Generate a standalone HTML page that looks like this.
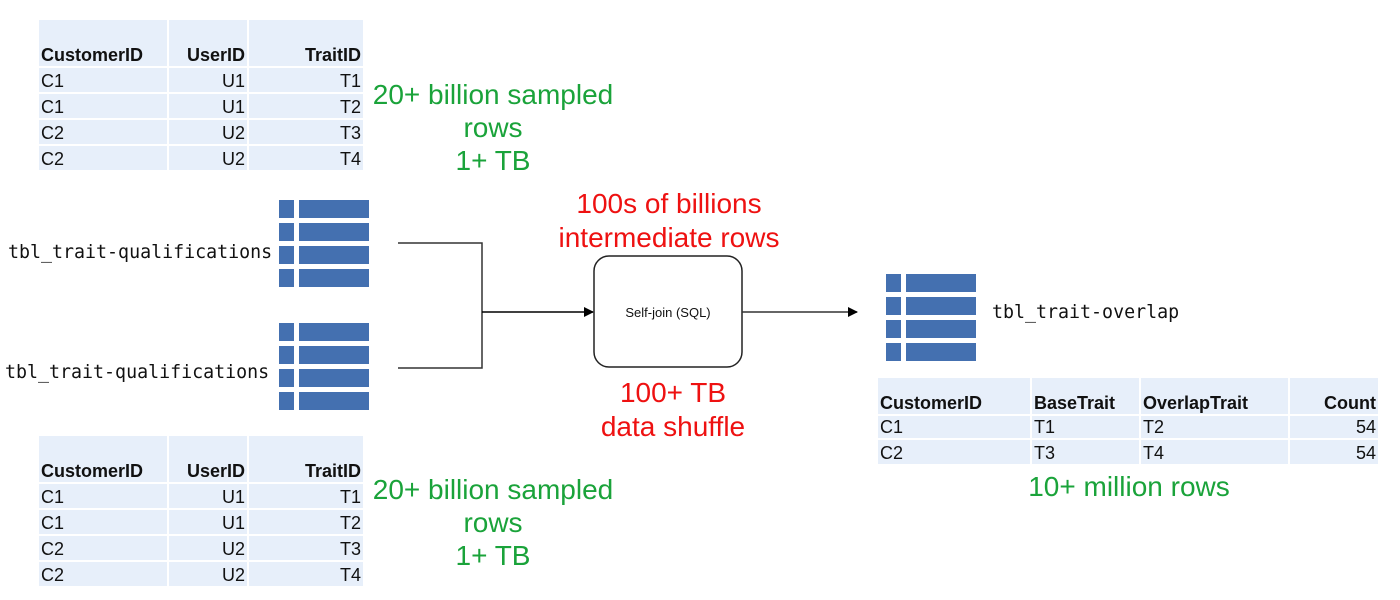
<!DOCTYPE html>
<html><head><meta charset="utf-8"><style>
body{margin:0;width:1400px;height:600px;background:#fff;position:relative;overflow:hidden;font-family:"Liberation Sans",Arial,sans-serif}
.t{position:absolute;display:grid;gap:2px}
.t div{background:#e7effa;font-size:18px;color:#111;line-height:22px;padding:0 2px;display:flex;align-items:flex-end}
.t .h{font-weight:bold}
.t .r{justify-content:flex-end}
.g{position:absolute;color:#1aa33a;font-size:28px;text-align:center;line-height:33px}
.red{position:absolute;color:#ee1111;font-size:28px;text-align:center;line-height:34px}
.m{position:absolute;font-family:"DejaVu Sans Mono","Liberation Mono",monospace;font-size:18.3px;color:#111}
</style></head><body>

<div class="t" style="left:39px;top:20px;grid-template-columns:128px 78px 114px;grid-template-rows:46px 24px 24px 24px 24px">
<div class="h">CustomerID</div><div class="h r">UserID</div><div class="h r">TraitID</div>
<div>C1</div><div class="r">U1</div><div class="r">T1</div>
<div>C1</div><div class="r">U1</div><div class="r">T2</div>
<div>C2</div><div class="r">U2</div><div class="r">T3</div>
<div>C2</div><div class="r">U2</div><div class="r">T4</div>
</div>
<div class="t" style="left:39px;top:436px;grid-template-columns:128px 78px 114px;grid-template-rows:46px 24px 24px 24px 24px">
<div class="h">CustomerID</div><div class="h r">UserID</div><div class="h r">TraitID</div>
<div>C1</div><div class="r">U1</div><div class="r">T1</div>
<div>C1</div><div class="r">U1</div><div class="r">T2</div>
<div>C2</div><div class="r">U2</div><div class="r">T3</div>
<div>C2</div><div class="r">U2</div><div class="r">T4</div>
</div>
<div class="t" style="left:878px;top:378px;grid-template-columns:152px 107px 147px 88px;grid-template-rows:36px 22px 24px">
<div class="h">CustomerID</div><div class="h">BaseTrait</div><div class="h">OverlapTrait</div><div class="h r">Count</div>
<div>C1</div><div>T1</div><div>T2</div><div class="r">54</div>
<div>C2</div><div>T3</div><div>T4</div><div class="r">54</div>
</div>

<div class="g" style="left:343px;top:78px;width:300px">20+ billion sampled<br>rows<br>1+ TB</div>
<div class="g" style="left:343px;top:473px;width:300px">20+ billion sampled<br>rows<br>1+ TB</div>
<div class="g" style="left:979px;top:470px;width:300px">10+ million rows</div>
<div class="red" style="left:529px;top:187px;width:280px">100s of billions<br>intermediate rows</div>
<div class="red" style="left:533px;top:376px;width:280px">100+ TB<br>data shuffle</div>

<div class="m" style="left:8px;top:242px">tbl_trait-qualifications</div>
<div class="m" style="left:5px;top:362px">tbl_trait-qualifications</div>
<div class="m" style="left:992px;top:302px">tbl_trait-overlap</div>

<svg width="1400" height="600" style="position:absolute;left:0;top:0">
<defs>
<g id="ic">
<rect x="0" y="0" width="15" height="18" fill="#4470b0"/><rect x="20" y="0" width="70" height="18" fill="#4470b0"/>
<rect x="0" y="23" width="15" height="18" fill="#4470b0"/><rect x="20" y="23" width="70" height="18" fill="#4470b0"/>
<rect x="0" y="46" width="15" height="18" fill="#4470b0"/><rect x="20" y="46" width="70" height="18" fill="#4470b0"/>
<rect x="0" y="69" width="15" height="18" fill="#4470b0"/><rect x="20" y="69" width="70" height="18" fill="#4470b0"/>
</g>
<marker id="a" markerWidth="10" markerHeight="10" refX="9" refY="5" orient="auto" markerUnits="userSpaceOnUse"><path d="M0,0 L10,5 L0,10z" fill="#000"/></marker>
</defs>
<use href="#ic" x="279" y="200"/>
<use href="#ic" x="279" y="323"/>
<use href="#ic" x="886" y="274"/>
<path d="M398,243 H482 V368 H398" fill="none" stroke="#333" stroke-width="1.5"/>
<line x1="482" y1="312" x2="593" y2="312" stroke="#000" stroke-width="1.5" marker-end="url(#a)"/>
<rect x="594" y="256" width="148" height="111" rx="15" fill="#fff" stroke="#222" stroke-width="1.5"/>
<text x="668" y="317" font-family="Liberation Sans,Arial,sans-serif" font-size="13" text-anchor="middle" fill="#111">Self-join (SQL)</text>
<line x1="742" y1="312" x2="857" y2="312" stroke="#333" stroke-width="1.5" marker-end="url(#a)"/>
</svg>
</body></html>
